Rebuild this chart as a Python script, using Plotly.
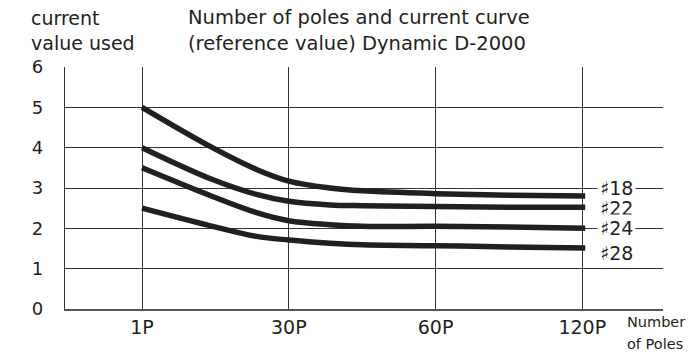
import plotly.graph_objects as go

# category positions on the x axis and their labels
tick_pos = [0, 1, 2, 3]
tick_labels = ['1P', '30P', '60P', '120P']

# points (x in category units)
x_pts = [0, 0.48, 0.78, 1.0, 1.28, 1.5, 2.0, 2.5, 3.02]
awg18 = [5.0, 4.0, 3.46, 3.17, 3.0, 2.93, 2.86, 2.82, 2.8]
awg22 = [4.0, 3.21, 2.84, 2.67, 2.58, 2.56, 2.54, 2.52, 2.52]
awg24 = [3.5, 2.79, 2.39, 2.19, 2.09, 2.05, 2.05, 2.03, 2.0]
awg28 = [2.5, 2.05, 1.80, 1.71, 1.63, 1.59, 1.57, 1.54, 1.51]

series_names = ['♯18', '♯22', '♯24', '♯28']
series_vals = [awg18, awg22, awg24, awg28]
label_y = [3.0, 2.5, 2.0, 1.4]

INK = '#231f20'
FONT = 'DejaVu Sans'

# plot box in pixels
L, R, T, B = 65, 663, 67, 309


def px(x):
    return (x - L) / (R - L)


def py(y):
    return (B - y) / (B - T)


def text_at(x, y, text, size):
    # left-aligned text, vertically centred on pixel y
    fig.add_annotation(
        x=px(x), y=py(y), xref='paper', yref='paper', text=text,
        showarrow=False, xanchor='left', yanchor='middle', align='left',
        font=dict(family=FONT, size=size, color=INK)
    )


fig = go.Figure()
for name, vals in zip(series_names, series_vals):
    fig.add_trace(go.Scatter(
        x=x_pts, y=vals, mode='lines', name=name,
        line=dict(color=INK, width=5.5, shape='spline', smoothing=1.0),
        hoverinfo='skip'
    ))

# series labels at the right end of each curve
for name, ly in zip(series_names, label_y):
    on_grid = ly in (3.0, 2.0)
    fig.add_annotation(
        x=px(597), xref='paper', y=ly, yref='y',
        text=name, showarrow=False, xanchor='left',
        bgcolor='white' if on_grid else None, borderpad=2,
        font=dict(family=FONT, size=19, color=INK)
    )

text_at(29, 18, 'current', 19)
text_at(29, 43, 'value used', 19)
text_at(186, 18, 'Number of poles and current curve', 19.5)
text_at(186, 43, '(reference value) Dynamic D-2000', 19.5)
text_at(625, 322, 'Number', 14.5)
text_at(625, 344, 'of Poles', 14.5)

fig.update_layout(
    width=693, height=352,
    margin=dict(l=L, r=693 - R, t=T, b=352 - B),
    paper_bgcolor='white', plot_bgcolor='white',
    showlegend=False,
    font=dict(family=FONT, color=INK),
    xaxis=dict(
        range=[-0.525, 3.55], tickvals=tick_pos, ticktext=tick_labels,
        showgrid=True, gridcolor='#333333', gridwidth=1.3,
        zeroline=False, showline=True, linecolor='#555555', linewidth=1.5,
        tickfont=dict(size=19, color=INK), ticks='', automargin=False,
        fixedrange=True
    ),
    yaxis=dict(
        range=[0, 6], tickvals=[0, 1, 2, 3, 4, 5, 6],
        showgrid=True, gridcolor='#333333', gridwidth=1.3,
        zeroline=False, showline=True, linecolor='#333333', linewidth=1.3,
        tickfont=dict(size=18, color=INK), ticks='', ticklabelstandoff=17,
        automargin=False, fixedrange=True
    ),
)

fig.write_html('out.html', config={'displayModeBar': False},
               post_script="document.body.style.margin='0';")
